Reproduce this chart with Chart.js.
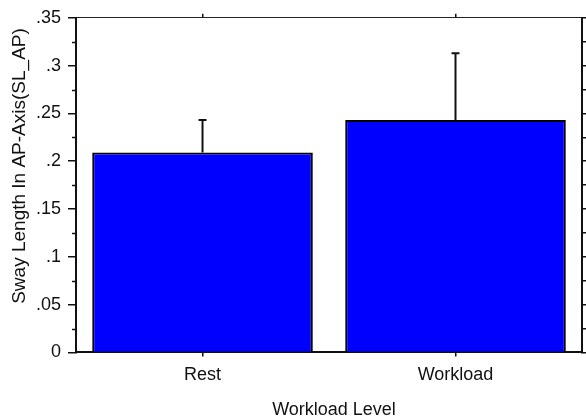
<!DOCTYPE html>
<html>
<head>
<meta charset="utf-8">
<style>
  html, body { margin: 0; padding: 0; background: #ffffff; }
  canvas { display: block; }
</style>
<script src="https://cdn.jsdelivr.net/npm/chart.js@4/dist/chart.umd.min.js"></script>
</head>
<body>
<canvas id="chart" width="586" height="419"></canvas>
<script>
// Group means and their standard errors
const categories = ['Rest', 'Workload'];
const meanValues = [0.209, 0.243];
const errorValues = [0.034, 0.070];

// Value axis range and steps
const yMin = 0;
const yMax = 0.35;
const yMajorStep = 0.05;
const yMinorStep = 0.025;

const xTitle = 'Workload Level';
const yTitle = 'Sway Length In AP-Axis(SL_AP)';

const FONT = "'Liberation Sans', Arial, sans-serif";

function fmtTick(v) {
  if (Math.abs(v) < 1e-9) return '0';
  return String(+v.toFixed(3)).replace(/^0\./, '.');
}

// Upper error whiskers with caps
const errorBarPlugin = {
  id: 'errorBars',
  afterDatasetsDraw(chart) {
    const ctx = chart.ctx;
    const meta = chart.getDatasetMeta(0);
    const y = chart.scales.y;
    ctx.save();
    ctx.strokeStyle = '#111111';
    ctx.lineWidth = 2;
    meta.data.forEach((bar, i) => {
      const yBase = y.getPixelForValue(meanValues[i]);
      const yTop = y.getPixelForValue(meanValues[i] + errorValues[i]);
      ctx.beginPath();
      ctx.moveTo(bar.x, yBase);
      ctx.lineTo(bar.x, yTop);
      ctx.moveTo(bar.x - 4, yTop);
      ctx.lineTo(bar.x + 4, yTop);
      ctx.stroke();
    });
    ctx.restore();
  }
};

// Short minor ticks on the left value axis, and the axis titles
const axisDecorPlugin = {
  id: 'axisDecor',
  afterDraw(chart) {
    const ctx = chart.ctx;
    const y = chart.scales.y;
    const area = chart.chartArea;
    ctx.save();
    ctx.strokeStyle = '#111111';
    ctx.lineWidth = 1.5;
    for (let v = yMin + yMinorStep; v < yMax; v += yMajorStep) {
      const py = Math.round(y.getPixelForValue(v)) + 0.5;
      ctx.beginPath();
      ctx.moveTo(area.left - 4, py);
      ctx.lineTo(area.left, py);
      ctx.stroke();
    }
    ctx.fillStyle = '#111111';
    ctx.textAlign = 'center';
    ctx.textBaseline = 'middle';
    ctx.font = '18px ' + FONT;
    ctx.fillText(xTitle, 334, 410);
    ctx.font = '19px ' + FONT;
    ctx.translate(20, 166);
    ctx.rotate(-Math.PI / 2);
    ctx.fillText(yTitle, 0, 0);
    ctx.restore();
  }
};

new Chart(document.getElementById('chart'), {
  type: 'bar',
  data: {
    labels: categories,
    datasets: [{
      data: meanValues,
      backgroundColor: '#0000ff',
      borderColor: '#000000',
      borderWidth: 2,
      barPercentage: 0.872,
      categoryPercentage: 1.0
    }]
  },
  options: {
    responsive: false,
    animation: false,
    devicePixelRatio: 1,
    layout: { padding: { left: 29, top: 13.7, right: 0, bottom: 25 } },
    plugins: {
      legend: { display: false },
      tooltip: { enabled: false },
      title: { display: false }
    },
    scales: {
      x: {
        type: 'category',
        position: 'bottom',
        offset: true,
        grid: {
          offset: false,
          drawOnChartArea: false,
          drawTicks: true,
          tickLength: 4,
          color: '#111111',
          lineWidth: 1.5
        },
        border: { display: true, color: '#111111', width: 2 },
        ticks: {
          color: '#111111',
          padding: 8,
          font: { family: FONT, size: 18 }
        }
      },
      x2: {
        type: 'category',
        position: 'top',
        labels: categories,
        offset: true,
        grid: {
          offset: false,
          drawOnChartArea: false,
          drawTicks: true,
          tickLength: 4,
          color: '#111111',
          lineWidth: 1.5
        },
        border: { display: true, color: '#222222', width: 1 },
        ticks: { display: false }
      },
      y: {
        position: 'left',
        min: yMin,
        max: yMax,
        grid: {
          drawOnChartArea: false,
          drawTicks: true,
          tickLength: 8,
          color: '#111111',
          lineWidth: 1.5
        },
        border: { display: true, color: '#111111', width: 2 },
        ticks: {
          stepSize: yMajorStep,
          color: '#111111',
          padding: 7,
          font: { family: FONT, size: 18 },
          callback: (v) => fmtTick(v)
        }
      },
      y2: {
        position: 'right',
        min: yMin,
        max: yMax,
        grid: {
          drawOnChartArea: false,
          drawTicks: true,
          tickLength: 4,
          color: '#111111',
          lineWidth: 1.5
        },
        border: { display: true, color: '#111111', width: 2 },
        ticks: { display: false, stepSize: yMinorStep }
      }
    }
  },
  plugins: [errorBarPlugin, axisDecorPlugin]
});
</script>
</body>
</html>
